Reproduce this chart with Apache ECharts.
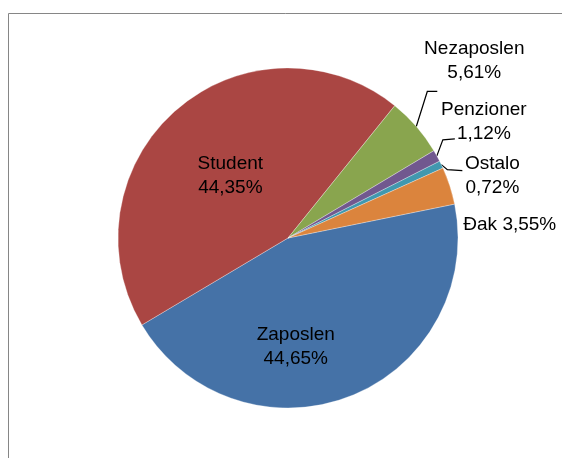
<!DOCTYPE html>
<html>
<head>
<meta charset="utf-8">
<script src="https://cdn.jsdelivr.net/npm/echarts@6/dist/echarts.min.js"></script>
<style>
  html, body { margin: 0; padding: 0; background: #fff; }
  #chart { width: 562px; height: 458px; }
</style>
</head>
<body>
<div id="chart"></div>
<script>
const categories = ['Zaposlen', 'Student', 'Nezaposlen', 'Penzioner', 'Ostalo', 'Đak']
const shares = [44.65, 44.35, 5.61, 1.12, 0.72, 3.55]
const colors = ['#4572A7', '#AA4643', '#89A54E', '#71588F', '#4198AF', '#DB843D']

// where each label sits relative to the slice edge point (Excel-like placement)
const labelShift = {
  0: { dx: -24, dy: 27 },
  1: { dx: 0, dy: 4 },
  2: { x: 58, y: -66, line: [[11, -35], [21, -35]] },
  3: { x: 47, y: -34, line: [[6, -16], [18, -17]] },
  4: { x: 51, y: 11, line: [[6, 5], [21, 6]] },
  5: { x: 60, y: 39, line: null },
}

const fmt = v => v.toFixed(2).replace('.', ',') + '%'

const chart = echarts.init(document.getElementById('chart'))

const data = categories.map((name, i) => ({
  name,
  value: shares[i],
  itemStyle: { color: colors[i] },
  label: { position: i < 2 ? 'inside' : 'outside' },
}))

chart.setOption({
  animation: false,
  graphic: [{
    type: 'rect',
    shape: { x: 8.5, y: 13.5, width: 600, height: 500 },
    style: { fill: 'none', stroke: '#868686', lineWidth: 1 },
    silent: true,
  }],
  series: [{
    type: 'pie',
    center: [288, 238],
    radius: 170,
    startAngle: 11.5,
    avoidLabelOverlap: false,
    itemStyle: { borderColor: 'rgba(255,255,255,0.6)', borderWidth: 0.5 },
    label: {
      color: '#000',
      fontFamily: 'Liberation Sans',
      fontSize: 19,
      lineHeight: 24,
      align: 'center',
      formatter: p => p.name === 'Đak' ? `${p.name} ${fmt(p.value)}` : `${p.name}\n${fmt(p.value)}`,
    },
    labelLine: {
      show: true,
      length: 10,
      length2: 10,
      lineStyle: { color: '#000', width: 1.2 },
    },
    labelLayout: params => {
      const s = labelShift[params.dataIndex]
      if (!s) return {}
      if (s.dx !== undefined) return { dx: s.dx, dy: s.dy }
      const edge = params.labelLinePoints ? params.labelLinePoints[0] : null
      if (!edge) return {}
      const pts = s.line
        ? [edge].concat(s.line.map(d => [edge[0] + d[0], edge[1] + d[1]]))
        : [edge, edge, edge]
      return {
        x: edge[0] + s.x,
        y: edge[1] + s.y,
        align: 'center',
        verticalAlign: 'middle',
        labelLinePoints: pts,
      }
    },
    data,
  }],
})

window.addEventListener('resize', () => chart.resize())
</script>
</body>
</html>
